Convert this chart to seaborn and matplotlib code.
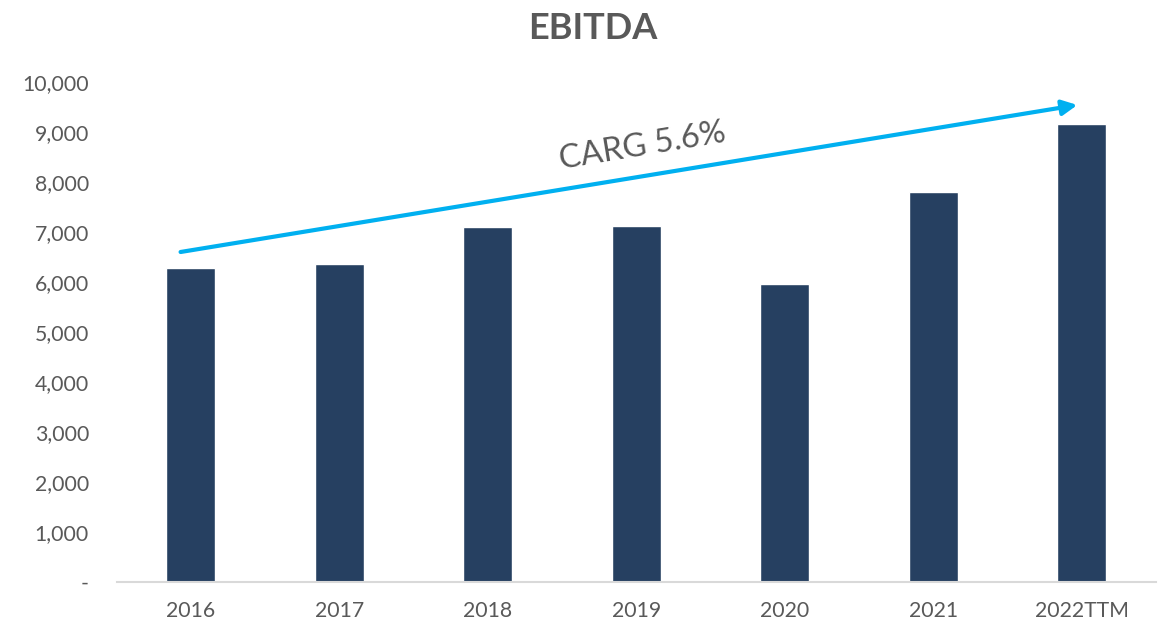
import pandas as pd
import numpy as np
import matplotlib.pyplot as plt
import seaborn as sns
from matplotlib.ticker import FuncFormatter

years = ["2016", "2017", "2018", "2019", "2020", "2021", "2022TTM"]
ebitda = [6280, 6360, 7100, 7120, 5960, 7800, 9160]
yticks = [0, 1000, 2000, 3000, 4000, 5000, 6000, 7000, 8000, 9000, 10000]

# trend arrow (start/end values in data units) and label
arrow_from = (-0.07, 6600)
arrow_to = (5.97, 9540)
cagr_label = "CARG 5.6%"

df = pd.DataFrame({"year": years, "ebitda": ebitda})

sns.set_style("white")
plt.rcParams["font.family"] = ["Lato", "DejaVu Sans"]

grey = "#595959"
fig = plt.figure(figsize=(11.58, 6.24), dpi=100)
ax = fig.add_axes([0.1008, 0.0673, 0.8975, 0.8013])

sns.barplot(data=df, x="year", y="ebitda", color="#264061", saturation=1,
            width=0.33, ax=ax)

ax.set_ylim(0, 10000)
ax.set_xlim(-0.5, len(years) - 0.5)
ax.set_yticks(yticks)
ax.yaxis.set_major_formatter(FuncFormatter(lambda v, p: "-" if v == 0 else f"{v:,.0f}"))
ax.tick_params(axis="both", length=0, labelsize=15.3, labelcolor=grey)
ax.tick_params(axis="y", pad=20)
ax.tick_params(axis="x", pad=14)
ax.set_xlabel("")
ax.set_ylabel("")

for s in ["top", "right", "left"]:
    ax.spines[s].set_visible(False)
ax.spines["bottom"].set_color("#D9D9D9")
ax.spines["bottom"].set_linewidth(1.5)

ax.annotate("", xy=arrow_to, xytext=arrow_from,
            arrowprops=dict(arrowstyle="-|>,head_length=0.9,head_width=0.45",
                            color="#00B0F0", lw=3, shrinkA=0, shrinkB=0))
ax.text(3.04, 8720, cagr_label, fontsize=23.5, color=grey, rotation=9.4,
        ha="center", va="center")

fig.suptitle("EBITDA", x=0.512, y=0.98, fontsize=26, fontweight="bold", color=grey)

fig.savefig("out.png", dpi=100)
